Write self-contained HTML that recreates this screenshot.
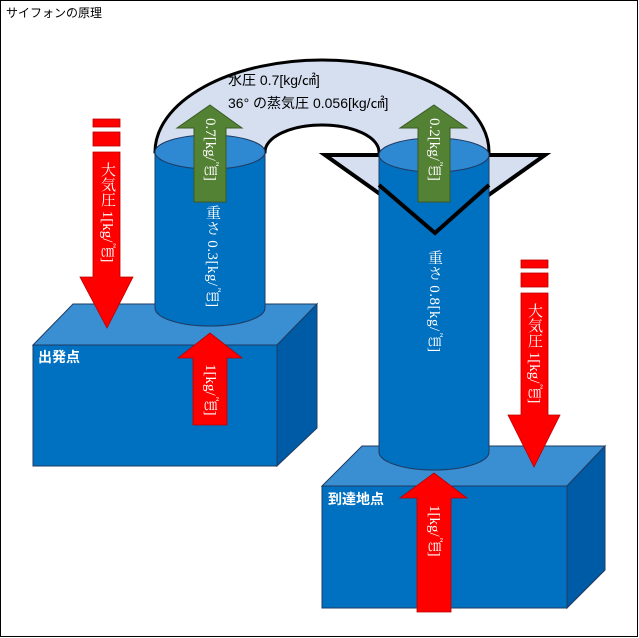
<!DOCTYPE html>
<html><head><meta charset="utf-8"><style>
html,body{margin:0;padding:0;background:#fff;}
svg{display:block;font-family:"Liberation Serif","Noto Serif CJK SC","Noto Sans CJK JP",serif;}
</style></head><body>
<svg width="639" height="638" viewBox="0 0 639 638" xmlns="http://www.w3.org/2000/svg">
<rect x="0.5" y="0.5" width="637" height="636" fill="#fff" stroke="#000" stroke-width="1"/>
<text x="6" y="17" font-size="12" font-family="Liberation Sans,Noto Sans CJK JP,sans-serif">サイフォンの原理</text>

<polygon points="33,345 277,345 317,304 73,304" fill="#3a8ed2" stroke="#1f3b63" stroke-width="1"/>
<polygon points="277,345 317,304 317,428 277,466" fill="#005ba6" stroke="#1f3b63" stroke-width="1"/>
<rect x="33" y="345" width="244" height="121" fill="#0070c0" stroke="#1f3b63" stroke-width="1"/>
<polygon points="322,486 567,486 605,446 362,446" fill="#3a8ed2" stroke="#1f3b63" stroke-width="1"/>
<polygon points="567,486 605,446 605,570 567,608" fill="#005ba6" stroke="#1f3b63" stroke-width="1"/>
<rect x="322" y="486" width="245" height="122" fill="#0070c0" stroke="#1f3b63" stroke-width="1"/>

<path d="M155,152 A167,92 0 0 1 489,152 L379,152 A57,27 0 0 0 265,152 Z" fill="#d6dff0" stroke="#000" stroke-width="3"/>
<polygon points="325,155 545,155 435,233" fill="#d6dff0" stroke="#000" stroke-width="4"/>

<path d="M155,152 L155,308 A55,18 0 0 0 265,308 L265,152 Z" fill="#0070c0" stroke="#1f3b63" stroke-width="1"/>
<ellipse cx="210" cy="152" rx="55" ry="17" fill="#2e88d2" stroke="#1f3b63" stroke-width="1"/>
<path d="M379,155 L379,452 A55,18 0 0 0 489,452 L489,155 Z" fill="#0070c0" stroke="#1f3b63" stroke-width="1"/>
<ellipse cx="434" cy="155" rx="55" ry="17" fill="#2e88d2" stroke="#1f3b63" stroke-width="1"/>
<polyline points="379,185 435,233 489,185" fill="none" stroke="#000" stroke-width="4"/>

<text x="228" y="85" font-size="14" font-family="Liberation Sans,Noto Sans CJK JP,sans-serif" fill="#000">水圧 0.7[kg/㎠]</text>
<text x="228" y="108" font-size="14" font-family="Liberation Sans,Noto Sans CJK JP,sans-serif" fill="#000">36° の蒸気圧 0.056[kg/㎠]</text>

<polygon points="210,105 242,128 226,128 226,202 194,202 194,128 177,128" fill="#548235" stroke="#3a5a25" stroke-width="1"/>
<text x="210" y="118" font-size="15" fill="#fff" style="writing-mode:vertical-rl">0.7[kg/㎠]</text>
<polygon points="434,105 467,128 450,128 450,202 418,202 418,128 400,128" fill="#548235" stroke="#3a5a25" stroke-width="1"/>
<text x="434" y="118" font-size="15" fill="#fff" style="writing-mode:vertical-rl">0.2[kg/㎠]</text>

<text x="212" y="205" font-size="15" fill="#fff" style="writing-mode:vertical-rl;letter-spacing:0.5px">重さ 0.3[kg/㎠]</text>
<text x="434" y="250" font-size="15" fill="#fff" style="writing-mode:vertical-rl;letter-spacing:0.5px">重さ 0.8[kg/㎠]</text>

<rect x="93" y="119" width="27" height="8" fill="#f00" stroke="#b00" stroke-width="0.8"/>
<rect x="93" y="132" width="27" height="14" fill="#f00" stroke="#b00" stroke-width="0.8"/>
<polygon points="93,152 120,152 120,277 133,277 107,328 80,277 93,277" fill="#f00" stroke="#b00" stroke-width="0.8"/>
<text x="107" y="162" font-size="15" fill="#fff" style="writing-mode:vertical-rl">大気圧 1[kg/㎠]</text>
<rect x="521" y="260" width="27" height="8" fill="#f00" stroke="#b00" stroke-width="0.8"/>
<rect x="521" y="273" width="27" height="14" fill="#f00" stroke="#b00" stroke-width="0.8"/>
<polygon points="521,293 548,293 548,415 560,415 534,467 508,415 521,415" fill="#f00" stroke="#b00" stroke-width="0.8"/>
<text x="534" y="303" font-size="15" fill="#fff" style="writing-mode:vertical-rl">大気圧 1[kg/㎠]</text>

<polygon points="210,333 242,358 227,358 227,425 193,425 193,358 178,358" fill="#f00" stroke="#b00" stroke-width="0.8"/>
<text x="210" y="364" font-size="15" fill="#fff" style="writing-mode:vertical-rl">1[kg/㎠]</text>
<polygon points="434,473 467,498 451,498 451,612 417,612 417,498 400,498" fill="#f00" stroke="#b00" stroke-width="0.8"/>
<text x="434" y="505" font-size="15" fill="#fff" style="writing-mode:vertical-rl">1[kg/㎠]</text>

<text x="38" y="362" font-size="14" font-weight="bold" fill="#fff" font-family="Liberation Sans,Noto Sans CJK JP,sans-serif">出発点</text>
<text x="328" y="504" font-size="14" font-weight="bold" fill="#fff" font-family="Liberation Sans,Noto Sans CJK JP,sans-serif">到達地点</text>
</svg>
</body></html>
